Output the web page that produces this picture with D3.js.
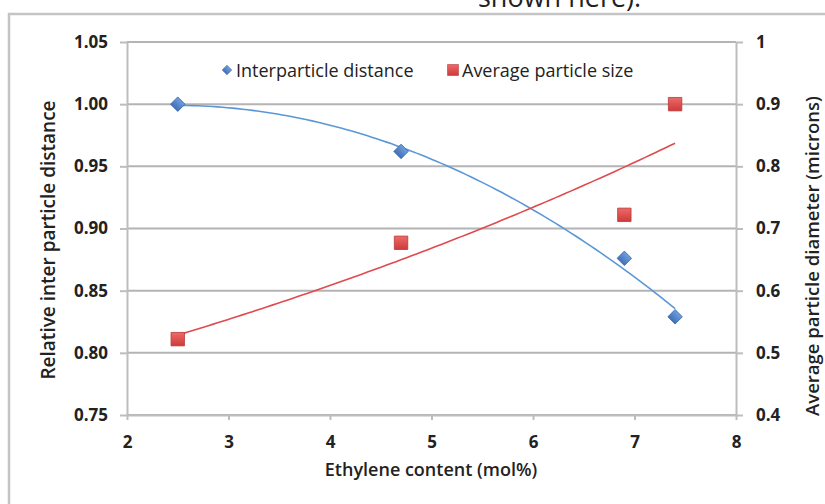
<!DOCTYPE html>
<html>
<head>
<meta charset="utf-8">
<script src="https://cdn.jsdelivr.net/npm/d3@7"></script>
<style>
  body { margin: 0; background: #fff; }
  text { font-family: "Open Sans", sans-serif; fill: #222; }
</style>
</head>
<body>
<div id="chart-area"></div>
<script>
var ethylene = [2.5, 4.7, 6.9, 7.4];
var interDistance = [1.00, 0.962, 0.876, 0.829];
var particleSize = [0.522, 0.677, 0.722, 0.900];
var xTicks = [2, 3, 4, 5, 6, 7, 8];
var leftTicks = [0.75, 0.80, 0.85, 0.90, 0.95, 1.00, 1.05];
var rightTicks = [0.4, 0.5, 0.6, 0.7, 0.8, 0.9, 1];

var width = 825, height = 504;
var margin = {top: 42, right: 89, bottom: 89, left: 127};

var svg = d3.select("#chart-area").append("svg").attr("width", width).attr("height", height);

// bits of the surrounding page
svg.append("text").attr("x", 478).attr("y", 7).attr("font-size", "27px").attr("fill", "#222").text("shown here).");
svg.append("path").attr("d", "M9,504V14H825").attr("fill", "none").attr("stroke", "#c4c4c4").attr("stroke-width", 2.5);

var defs = svg.append("defs");
var gb = defs.append("linearGradient").attr("id", "gBlue").attr("x1", 0).attr("y1", 0).attr("x2", 0).attr("y2", 1);
gb.append("stop").attr("offset", "0%").attr("stop-color", "#6f9fdc");
gb.append("stop").attr("offset", "100%").attr("stop-color", "#3f70b8");
var gr = defs.append("linearGradient").attr("id", "gRed").attr("x1", 0).attr("y1", 0).attr("x2", 0).attr("y2", 1);
gr.append("stop").attr("offset", "0%").attr("stop-color", "#ec6a68");
gr.append("stop").attr("offset", "100%").attr("stop-color", "#cf3a3a");

var x = d3.scaleLinear().domain([2, 8]).range([margin.left, width - margin.right]);
var yL = d3.scaleLinear().domain([0.75, 1.05]).range([height - margin.bottom, margin.top]);
var yR = d3.scaleLinear().domain([0.4, 1]).range([height - margin.bottom, margin.top]);

// gridlines
svg.append("g").selectAll("line").data(leftTicks).enter().append("line")
    .attr("x1", x(2)).attr("x2", x(8))
    .attr("y1", (d) => yL(d)).attr("y2", (d) => yL(d))
    .attr("stroke", "#b4b4b4").attr("stroke-width", 2);

function styleAxis(g) {
    g.selectAll("path, line").attr("stroke", "#bdbdbd").attr("stroke-width", 2);
    g.selectAll("text").attr("font-size", "17px").attr("font-weight", 700).attr("fill", "#222")
        .attr("font-family", "Open Sans, sans-serif");
}

var leftAxis = d3.axisLeft(yL).tickValues(leftTicks).tickFormat(d3.format(".2f")).tickSize(7).tickPadding(12).tickSizeOuter(0);
svg.append("g").attr("transform", "translate(" + x(2) + ",0)").call(leftAxis).call(styleAxis);

var rightAxis = d3.axisRight(yR).tickValues(rightTicks).tickFormat((d) => d === 1 ? "1" : d3.format(".1f")(d)).tickSize(7).tickPadding(13).tickSizeOuter(0);
svg.append("g").attr("transform", "translate(" + x(8) + ",0)").call(rightAxis).call(styleAxis);

var bottomAxis = d3.axisBottom(x).tickValues(xTicks).tickFormat(d3.format("d")).tickSize(5).tickPadding(16).tickSizeOuter(0);
svg.append("g").attr("transform", "translate(0," + yL(0.75) + ")").call(bottomAxis).call(styleAxis);

// axis titles
svg.append("text").attr("x", 431).attr("y", 476).attr("text-anchor", "middle")
    .attr("font-size", "18px").attr("font-weight", 600).text("Ethylene content (mol%)");
svg.append("text").attr("transform", "translate(55,240) rotate(-90)").attr("text-anchor", "middle")
    .attr("font-size", "19px").attr("font-weight", 600).text("Relative inter particle distance");
svg.append("text").attr("transform", "translate(819,256) rotate(-90)").attr("text-anchor", "middle")
    .attr("font-size", "18.5px").attr("font-weight", 600).text("Average particle diameter (microns)");

// trendlines: 2nd order polynomial for distance, exponential for size
function polyFit2(xs, ys) {
    var s = [0, 0, 0, 0, 0], t = [0, 0, 0];
    xs.forEach((xv, i) => {
        for (var k = 0; k < 5; k++) s[k] += Math.pow(xv, k);
        for (var k = 0; k < 3; k++) t[k] += ys[i] * Math.pow(xv, k);
    });
    var A = [[s[0], s[1], s[2], t[0]], [s[1], s[2], s[3], t[1]], [s[2], s[3], s[4], t[2]]];
    for (var i = 0; i < 3; i++) {
        for (var j = i + 1; j < 3; j++) {
            var f = A[j][i] / A[i][i];
            for (var k = i; k < 4; k++) A[j][k] -= f * A[i][k];
        }
    }
    var c = [0, 0, 0];
    for (var i = 2; i >= 0; i--) {
        var v = A[i][3];
        for (var k = i + 1; k < 3; k++) v -= A[i][k] * c[k];
        c[i] = v / A[i][i];
    }
    return (xv) => c[0] + c[1] * xv + c[2] * xv * xv;
}
function expFit(xs, ys) {
    var ly = ys.map(Math.log);
    var mx = d3.mean(xs), my = d3.mean(ly);
    var b = d3.sum(xs, (xv, i) => (xv - mx) * (ly[i] - my)) / d3.sum(xs, (xv) => (xv - mx) * (xv - mx));
    var a = my - b * mx;
    return (xv) => Math.exp(a + b * xv);
}

var fitBlue = polyFit2(ethylene, interDistance);
var fitRed = expFit(ethylene, particleSize);
var xs = d3.range(0, 101).map((i) => d3.min(ethylene) + i / 100 * (d3.max(ethylene) - d3.min(ethylene)));

svg.append("path").datum(xs).attr("fill", "none").attr("stroke", "#5b97d6").attr("stroke-width", 1.6)
    .attr("d", d3.line().x((d) => x(d)).y((d) => yL(fitBlue(d))));
svg.append("path").datum(xs).attr("fill", "none").attr("stroke", "#e04a4d").attr("stroke-width", 1.6)
    .attr("d", d3.line().x((d) => x(d)).y((d) => yR(fitRed(d))));

// markers
var diamond = d3.symbol().type(d3.symbolSquare).size(105);
var square = d3.symbol().type(d3.symbolSquare).size(180);

svg.append("g").selectAll("path").data(ethylene).enter().append("path")
    .attr("d", diamond)
    .attr("transform", (d, i) => "translate(" + x(d) + "," + yL(interDistance[i]) + ") rotate(45)")
    .attr("fill", "url(#gBlue)").attr("stroke", "#3b67a6").attr("stroke-width", 0.8);

svg.append("g").selectAll("path").data(ethylene).enter().append("path")
    .attr("d", square)
    .attr("transform", (d, i) => "translate(" + x(d) + "," + yR(particleSize[i]) + ")")
    .attr("fill", "url(#gRed)").attr("stroke", "#b8383a").attr("stroke-width", 0.8);

// legend
var legend = svg.append("g");
legend.append("path").attr("d", d3.symbol().type(d3.symbolSquare).size(45))
    .attr("transform", "translate(227,70) rotate(45)").attr("fill", "url(#gBlue)").attr("stroke", "#3b67a6").attr("stroke-width", 0.6);
legend.append("text").attr("x", 236).attr("y", 77).attr("font-size", "18px").attr("fill", "#333").text("Interparticle distance");
legend.append("path").attr("d", d3.symbol().type(d3.symbolSquare).size(120))
    .attr("transform", "translate(453,70)").attr("fill", "url(#gRed)").attr("stroke", "#b8383a").attr("stroke-width", 0.6);
legend.append("text").attr("x", 462).attr("y", 77).attr("font-size", "18px").attr("fill", "#333").text("Average particle size");
</script>
</body>
</html>
